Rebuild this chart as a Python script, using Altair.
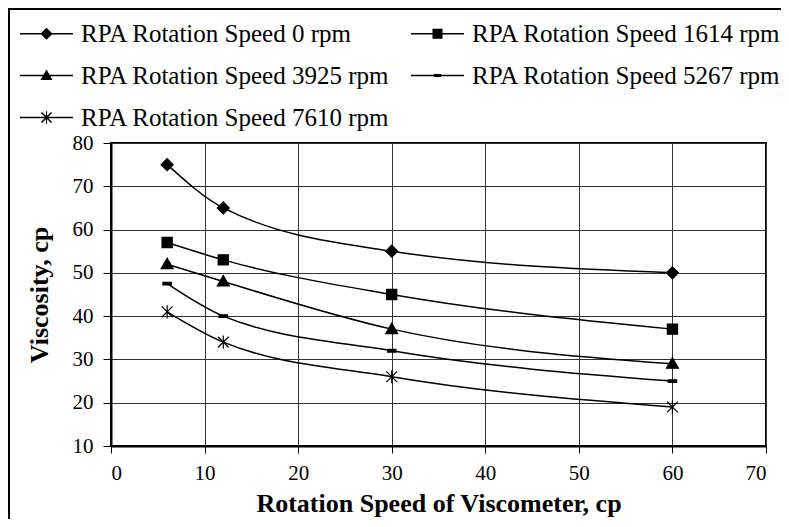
import altair as alt
import pandas as pd

# ---- data ----
x_values = [6, 12, 30, 60]
series_names = [
    "RPA Rotation Speed 0 rpm",
    "RPA Rotation Speed 1614 rpm",
    "RPA Rotation Speed 3925 rpm",
    "RPA Rotation Speed 5267 rpm",
    "RPA Rotation Speed 7610 rpm",
]
v_0 = [75, 65, 55, 50]
v_1614 = [57, 53, 45, 37]
v_3925 = [52, 48, 37, 29]
v_5267 = [47.5, 40, 32, 25]
v_7610 = [41, 34, 26, 19]
x_ticks = [0, 10, 20, 30, 40, 50, 60, 70]
y_ticks = [10, 20, 30, 40, 50, 60, 70, 80]

all_vals = [v_0, v_1614, v_3925, v_5267, v_7610]
rows = []
for si, (name, vals) in enumerate(zip(series_names, all_vals)):
    for x, y in zip(x_values, vals):
        rows.append({"series": name, "order": si, "x": x, "y": y})
df = pd.DataFrame(rows)

# marker shapes in the plot
plot_shapes = [
    "M0,-1L1,0L0,1L-1,0Z",                       # diamond
    "M-0.85,-0.85H0.85V0.85H-0.85Z",             # square
    "M0,-1L1,0.75L-1,0.75Z",                     # triangle
    "M-0.7,-0.22H0.7V0.22H-0.7Z",                # dash
    "M-0.9,-0.9L0.9,0.9M-0.9,0.9L0.9,-0.9M0,-1.1V1.1",  # asterisk
]
# legend symbols: thin filled bar (the line) plus marker, all filled
LINE = "M-1,-0.028H1V0.028H-1Z"
legend_shapes = [
    LINE + "M0,-0.23L0.23,0L0,0.23L-0.23,0Z",
    LINE + "M-0.19,-0.19H0.19V0.19H-0.19Z",
    LINE + "M0,-0.23L0.23,0.17L-0.23,0.17Z",
    LINE + "M-0.14,-0.06H0.14V0.06H-0.14Z",
    LINE
    + "M-0.17,-0.21L0.21,0.17L0.17,0.21L-0.21,-0.17Z"
    + "M-0.21,0.17L0.17,-0.21L0.21,-0.17L-0.17,0.21Z"
    + "M-0.022,-0.24H0.022V0.24H-0.022Z",
]

W, H = 655, 303
FONT = "Liberation Serif"

base = alt.Chart(df)

x_enc = alt.X("x:Q", scale=alt.Scale(domain=[0, 70], nice=False),
              axis=alt.Axis(values=x_ticks, title="Rotation Speed of Viscometer, cp",
                            tickSize=7, labelPadding=9, titlePadding=7))
y_enc = alt.Y("y:Q", scale=alt.Scale(domain=[10, 80], nice=False),
              axis=alt.Axis(values=y_ticks, title="Viscosity, cp",
                            tickSize=8, labelPadding=10, titlePadding=20))

lines = base.mark_line(interpolate="monotone", color="black", strokeWidth=1.5).encode(
    x=x_enc, y=y_enc, detail="series:N"
)

points = base.mark_point(filled=True, size=144, fill="black", stroke="black",
                         strokeWidth=1.2, opacity=1).encode(
    x="x:Q", y="y:Q",
    shape=alt.Shape("series:N", scale=alt.Scale(domain=series_names, range=plot_shapes),
                    legend=None),
)

ghost = base.transform_filter("false").mark_point(
    filled=True, fill="black", opacity=1
).encode(
    shape=alt.Shape("series:N", scale=alt.Scale(domain=series_names, range=legend_shapes),
                    legend=alt.Legend(
                        title=None, orient="none", legendX=-92, legendY=-137,
                        direction="horizontal",
                        columns=2, columnPadding=18, rowPadding=1,
                        symbolSize=2809, symbolFillColor="black",
                        symbolOpacity=1, labelFont=FONT, labelFontSize=25,
                        labelColor="black", labelLimit=600, labelOffset=7,
                        padding=0,
                    )),
)

frame = alt.Chart(alt.Data(values=[{}])).mark_rect(
    fill=None, stroke="black", strokeWidth=2
).encode(
    x=alt.value(-102), x2=alt.value(W + 300), y=alt.value(-134), y2=alt.value(H + 300)
)

chart = alt.layer(frame, lines, points, ghost).resolve_scale(
    shape="independent"
).properties(
    width=W, height=H,
    autosize=alt.AutoSizeParams(type="none"),
    padding={"left": 103, "top": 135, "right": 15, "bottom": 73},
).configure_view(
    stroke="black", strokeWidth=2
).configure_axis(
    labelFont=FONT, labelFontSize=21, labelColor="black",
    titleFont=FONT, titleFontSize=26, titleFontWeight="bold", titleColor="black",
    gridColor="#333333", gridWidth=1, gridOpacity=1,
    tickColor="black", tickWidth=1, domainColor="black", domainWidth=2,
)

chart.save("out.html", embed_options={"renderer": "svg", "actions": False})
